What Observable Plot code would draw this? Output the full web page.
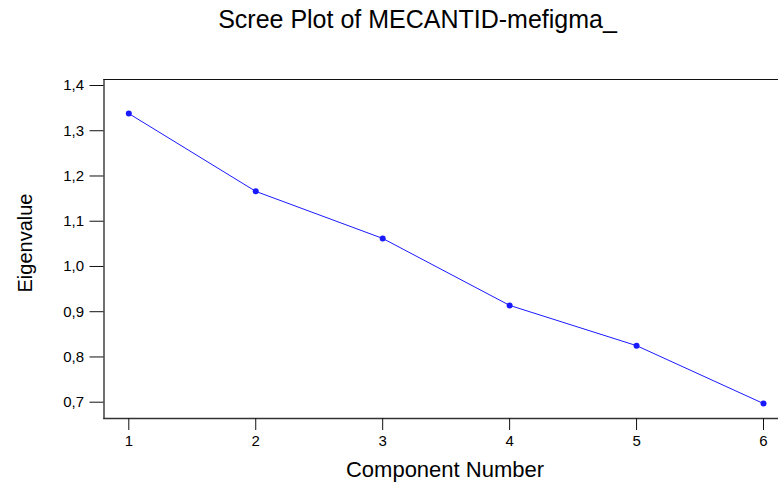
<!DOCTYPE html>
<html>
<head>
<meta charset="utf-8">
<script src="https://cdn.jsdelivr.net/npm/d3@7"></script>
<script src="https://cdn.jsdelivr.net/npm/@observablehq/plot@0.6"></script>
<style>
  html, body { margin: 0; padding: 0; background: #fff; overflow: hidden; }
  svg { font-family: "Liberation Sans", Arial, sans-serif; }
</style>
</head>
<body>
<div id="chart"></div>
<script>
const components = [1, 2, 3, 4, 5, 6];
const eigenvalues = [1.338, 1.166, 1.062, 0.914, 0.825, 0.697];
const xTicks = [1, 2, 3, 4, 5, 6];
const yTicks = [0.7, 0.8, 0.9, 1.0, 1.1, 1.2, 1.3, 1.4];
const title = "Scree Plot of MECANTID-mefigma_";
const xLabel = "Component Number";
const yLabel = "Eigenvalue";

const data = components.map((c, i) => ({c, v: eigenvalues[i]}));

const W = 778, H = 487;
const mLeft = 103.5, mTop = 79, mBottom = 69, mRight = 0;

const chart = Plot.plot({
  width: W,
  height: H,
  marginLeft: mLeft,
  marginTop: mTop,
  marginBottom: mBottom,
  marginRight: mRight,
  style: {fontFamily: "'Liberation Sans', Arial, sans-serif", background: "#fff", color: "#000"},
  x: {domain: [1, 6], range: [128.3, 763]},
  y: {domain: [0.7, 1.4], range: [401.7, 85]},
  marks: [
    Plot.frame({anchor: "top", stroke: "#111", strokeWidth: 1.2}),
    Plot.frame({anchor: "left", stroke: "#111", strokeWidth: 1.2}),
    Plot.frame({anchor: "bottom", stroke: "#333", strokeWidth: 1.6}),
    Plot.axisY({ticks: yTicks, tickSize: 14, tickPadding: 6, fontSize: 15, label: null,
      tickFormat: d => d.toFixed(1).replace(".", ","), stroke: "#111"}),
    Plot.axisX({ticks: xTicks, tickSize: 12, tickPadding: 5, fontSize: 15, label: null,
      tickFormat: d => String(d), stroke: "#111"}),
    Plot.line(data, {x: "c", y: "v", stroke: "#1a1aff", strokeWidth: 1}),
    Plot.dot(data, {x: "c", y: "v", r: 3, fill: "#1a1aff", stroke: "none"}),
    Plot.text([title], {frameAnchor: "top-left", dx: 417 - mLeft, dy: 27 - mTop,
      textAnchor: "middle", lineAnchor: "bottom", fontSize: 25, fill: "#000"}),
    Plot.text([xLabel], {frameAnchor: "bottom-left", dx: 444.5 - mLeft, dy: 476.5 - (H - mBottom),
      textAnchor: "middle", lineAnchor: "bottom", fontSize: 22, fill: "#000"}),
    Plot.text([yLabel], {frameAnchor: "top-left", dx: 31 - mLeft, dy: 242.5 - mTop,
      rotate: -90, textAnchor: "middle", lineAnchor: "bottom", fontSize: 20, fill: "#000"})
  ]
});
document.getElementById("chart").appendChild(chart);
</script>
</body>
</html>
